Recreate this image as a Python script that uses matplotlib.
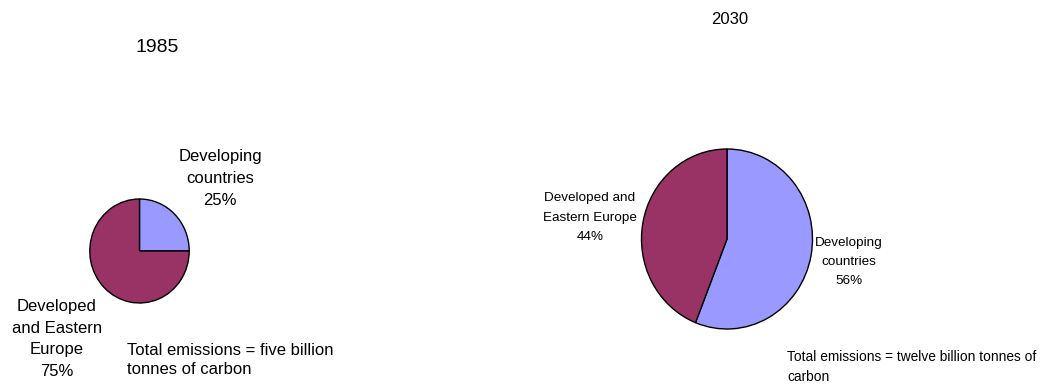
import matplotlib
matplotlib.use("Agg")
import matplotlib.pyplot as plt

plt.rcParams['font.family'] = ['Liberation Sans', 'DejaVu Sans']

W, H = 1045, 385

# data
labels = ['Developing\ncountries', 'Developed\nand Eastern\nEurope']
years = ['1985', '2030']
share_1985 = [25, 75]
share_2030 = [56, 44]
totals = ['Total emissions = five billion\ntonnes of carbon',
          'Total emissions = twelve billion tonnes of\ncarbon']
colors = ['#9999FF', '#993366']


def fx(x):
    return x / W


def fy(y):
    return 1 - y / H


def pie_axes(fig, cx, cy, rx, ry, pad=1.04):
    ax = fig.add_axes([fx(cx - rx * pad), fy(cy + ry * pad),
                       2 * rx * pad / W, 2 * ry * pad / H])
    return ax


fig = plt.figure(figsize=(W / 100, H / 100), dpi=100)
fig.patch.set_facecolor('white')

wp = dict(edgecolor='black', linewidth=1.0)

# 1985 pie
ax1 = pie_axes(fig, 139.5, 251, 49.7, 52)
ax1.pie(share_1985, colors=colors, startangle=90, counterclock=False,
        wedgeprops=wp)
ax1.set_aspect('auto')
ax1.set_xlim(-1.04, 1.04)
ax1.set_ylim(-1.04, 1.04)
ax1.axis('off')

# 2030 pie
ax2 = pie_axes(fig, 727, 239, 85.5, 90)
ax2.pie(share_2030, colors=colors, startangle=90, counterclock=False,
        wedgeprops=wp)
ax2.set_aspect('auto')
ax2.set_xlim(-1.04, 1.04)
ax2.set_ylim(-1.04, 1.04)
ax2.axis('off')

# titles
fig.text(fx(157), fy(48), years[0], fontsize=14, ha='center', va='center')
fig.text(fx(730), fy(20), years[1], fontsize=12, ha='center', va='center')

# 1985 labels
fig.text(fx(220), fy(178.5), f"{labels[0]}\n{share_1985[0]}%", fontsize=12,
         ha='center', va='center', linespacing=1.55, multialignment='center')
fig.text(fx(57), fy(339), f"{labels[1]}\n{share_1985[1]}%", fontsize=12,
         ha='center', va='center', linespacing=1.58, multialignment='center')
fig.text(fx(127), fy(360), totals[0], fontsize=12, ha='left', va='center',
         linespacing=1.35)

# 2030 labels
fig.text(fx(590), fy(217.5), f"Developed and\nEastern Europe\n{share_2030[1]}%",
         fontsize=9.7, ha='center', va='center', linespacing=1.8,
         multialignment='center')
fig.text(fx(849), fy(262), f"{labels[0]}\n{share_2030[0]}%", fontsize=9.7,
         ha='center', va='center', linespacing=1.8, multialignment='center')
fig.text(fx(787), fy(367), totals[1], fontsize=9.9, ha='left', va='center',
         linespacing=1.6)

fig.savefig('out.png', dpi=100)
